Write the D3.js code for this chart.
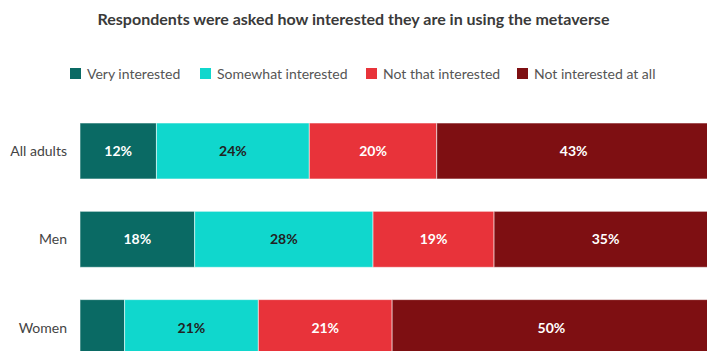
<!DOCTYPE html>
<html>
<head>
<meta charset="utf-8">
<script src="https://cdn.jsdelivr.net/npm/d3@7"></script>
<style>
  body { margin: 0; background: #fff; overflow: hidden; }
  text { font-family: Lato, "Open Sans", sans-serif; }
</style>
</head>
<body>
<script>
// Chart data
var groups = ["All adults", "Men", "Women"];
var seriesNames = ["Very interested", "Somewhat interested", "Not that interested", "Not interested at all"];
var veryInterested = [12, 18, 7];
var somewhatInterested = [24, 28, 21];
var notThatInterested = [20, 19, 21];
var notAtAll = [43, 35, 50];
var colors = ["#0a6a64", "#10d7cd", "#e8333a", "#7e0f12"];
var labelColors = ["#fff", "#222", "#fff", "#fff"];

var width = 707, height = 351;

var rows = groups.map(function(g, i) {
  return {group: g, values: [veryInterested[i], somewhatInterested[i], notThatInterested[i], notAtAll[i]]};
});

var x = d3.scaleLinear().domain([0, 100]).range([80, 717]);
var y = d3.scaleBand().domain(groups).range([123, 355.6]).paddingInner(0.366).paddingOuter(0);

var svg = d3.select("body").append("svg").attr("width", width).attr("height", height);

svg.append("text")
  .attr("x", width / 2).attr("y", 25)
  .attr("text-anchor", "middle")
  .style("font-size", "16px").style("font-weight", 700).style("fill", "#3a3a3a")
  .text("Respondents were asked how interested they are in using the metaverse");

// legend
var legendX = [70, 200, 366, 517];
var legend = svg.selectAll(".legend").data(seriesNames).enter().append("g")
  .attr("transform", function(d, i) { return "translate(" + legendX[i] + ",68)"; });
legend.append("rect").attr("width", 11).attr("height", 11).style("fill", function(d, i) { return colors[i]; });
legend.append("text").attr("x", 17).attr("y", 10.5)
  .style("font-size", "14px").style("fill", "#555").text(function(d) { return d; });

// bars
var rowG = svg.selectAll(".row").data(rows).enter().append("g")
  .attr("transform", function(d) { return "translate(0," + y(d.group) + ")"; });

rowG.append("text")
  .attr("x", 67).attr("y", y.bandwidth() / 2 + 5)
  .attr("text-anchor", "end")
  .style("font-size", "14px").style("fill", "#444")
  .text(function(d) { return d.group; });

var segs = rowG.selectAll(".seg").data(function(d) {
  var acc = 0;
  return d.values.map(function(v, i) { var s = {start: acc, value: v, i: i}; acc += v; return s; });
}).enter().append("g");

segs.append("rect")
  .attr("x", function(d) { return x(d.start); })
  .attr("width", function(d) { return x(d.start + d.value) - x(d.start); })
  .attr("height", y.bandwidth())
  .style("fill", function(d) { return colors[d.i]; })
  .style("stroke", "rgba(255,255,255,0.55)").style("stroke-width", 1);

segs.filter(function(d) { return d.value >= 10; }).append("text")
  .attr("x", function(d) { return x(d.start + d.value / 2); })
  .attr("y", y.bandwidth() / 2 + 5)
  .attr("text-anchor", "middle")
  .style("font-size", "14px").style("font-weight", 700)
  .style("fill", function(d) { return labelColors[d.i]; })
  .text(function(d) { return d.value + "%"; });
</script>
</body>
</html>
